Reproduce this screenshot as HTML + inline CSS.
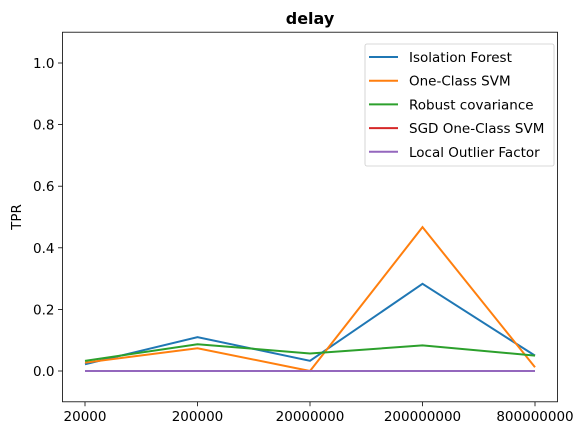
<!DOCTYPE html>
<html><head><meta charset="utf-8"><style>
body{margin:0;background:#fff}
svg text{font-family:"DejaVu Sans","Liberation Sans",sans-serif}
</style></head><body>
<svg id="chart" width="584" height="435" xmlns="http://www.w3.org/2000/svg">
<text x="310" y="24" font-size="16" font-weight="bold" text-anchor="middle">delay</text>
<text transform="translate(21,217) rotate(-90)" font-size="13.5" text-anchor="middle">TPR</text>
<g id="grid"></g><g id="lines"></g>
<rect x="62.5" y="32.2" width="495" height="369.6" fill="none" stroke="#000" stroke-width="0.8"/>
<g id="legend"></g>
</svg>
<script>
const categories=["20000","200000","20000000","200000000","800000000"];
const yTicks=[0.0,0.2,0.4,0.6,0.8,1.0];
const seriesNames=["Isolation Forest","One-Class SVM","Robust covariance","SGD One-Class SVM","Local Outlier Factor"];
const colors=["#1f77b4","#ff7f0e","#2ca02c","#d62728","#9467bd"];
const isolationForest=[0.022,0.11,0.033,0.283,0.05];
const oneClassSVM=[0.027,0.074,0.0,0.467,0.012];
const robustCov=[0.033,0.087,0.057,0.083,0.05];
const sgdSVM=[0,0,0,0,0];
const lof=[0,0,0,0,0];
const series=[isolationForest,oneClassSVM,robustCov,sgdSVM,lof];
const NS="http://www.w3.org/2000/svg";
const L=62.5,R=557.5,T=32.2,B=401.8;
const x=i=>L+(i+0.2)/4.4*(R-L);
const y=v=>B-(v+0.1)/1.2*(B-T);
function mk(t,a,p){const e=document.createElementNS(NS,t);for(const k in a)e.setAttribute(k,a[k]);p.appendChild(e);return e;}
const g=document.getElementById('grid');
categories.forEach((c,i)=>{
 const t=mk('line',{x1:x(i),x2:x(i),y1:B,y2:B+4.5,stroke:'#000','stroke-width':0.8},g);
 
 
 const tx=mk('text',{x:x(i),y:B+19,'font-size':13.5,'text-anchor':'middle'},g);tx.textContent=c;
 
 
});
yTicks.forEach(v=>{
 const t=mk('line',{x1:L-4.5,x2:L,y1:y(v),y2:y(v),stroke:'#000','stroke-width':0.8},g);
 
 
 const tx=mk('text',{x:L-8,y:y(v)+5,'font-size':13.5,'text-anchor':'end'},g);tx.textContent=v.toFixed(1);
 
 
});
const lg=document.getElementById('lines');
series.forEach((s,k)=>{
 const p=mk('polyline',{points:s.map((v,i)=>x(i)+','+y(v)).join(' '),fill:'none',stroke:colors[k],'stroke-width':2},lg);
 
 
});
const leg=document.getElementById('legend');
mk('rect',{x:365,y:44,width:189,height:122,rx:2,fill:'#fff','fill-opacity':0.8,stroke:'#ccc','stroke-width':0.8},leg);
seriesNames.forEach((n,k)=>{
 const yy=57+k*23.7;
 const l=mk('line',{x1:369,x2:398,y1:yy,y2:yy,stroke:colors[k],'stroke-width':2},leg);
 
 
 const t=mk('text',{x:409,y:yy+5,'font-size':13.5},leg);t.textContent=n;
 
 
});
</script>
</body></html>
